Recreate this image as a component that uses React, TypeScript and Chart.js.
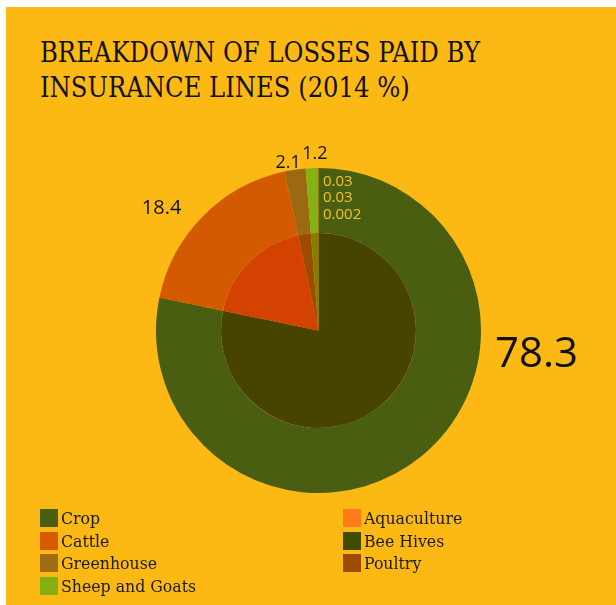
import React, { useEffect, useRef } from "react";
import { Chart, registerables } from "chart.js";

Chart.register(...registerables);

// ---- data ----
const categories = ["Crop", "Cattle", "Greenhouse", "Sheep and Goats", "Aquaculture", "Bee Hives", "Poultry"];
const values = [78.3, 18.4, 2.1, 1.2, 0.03, 0.03, 0.002];
const valueLabels = ["78.3", "18.4", "2.1", "1.2", "0.03", "0.03", "0.002"];
const legendColumnA = ["Crop", "Cattle", "Greenhouse", "Sheep and Goats"];
const legendColumnB = ["Aquaculture", "Bee Hives", "Poultry"];
const titleLines = ["BREAKDOWN OF LOSSES PAID BY", "INSURANCE LINES (2014 %)"];

// ---- styles ----
const BG = "#FDB913";
const outerColors = ["#495E11", "#D45A00", "#9B6911", "#82B214", "#FF7A1A", "#404C00", "#9E4A04"];
const innerColors = ["#464400", "#D34200", "#9B4C00", "#7F7F00", "#FF5500", "#3F3700", "#9E3600"];
const legendColors = ["#4A5E12", "#D55A00", "#A06C10", "#84B111", "#FF7A1A", "#404C00", "#9E4A04"];
const SERIF = "'DejaVu Serif Condensed', 'DejaVu Serif', serif";
const SANS = "'Open Sans', sans-serif";

// label placement: angle (deg, canvas), radius factor, font size, colour, align
const labelPlacement = [
  { a: 6.4, r: 1.35, size: 42, color: "#111", align: "center" },
  { a: -142, r: 1.225, size: 20, color: "#111", align: "center" },
  { a: -100.3, r: 1.047, size: 18, color: "#111", align: "center" },
  { a: -91.2, r: 1.089, size: 18, color: "#111", align: "center" },
  { a: -88.3, r: 0.916, size: 15, color: "#F6C323", align: "left" },
  { a: -88.06, r: 0.818, size: 15, color: "#F6C323", align: "left" },
  { a: -87.8, r: 0.716, size: 15, color: "#F6C323", align: "left" },
];

const valueLabelPlugin = {
  id: "valueLabels",
  afterDatasetsDraw(chart: any) {
    const meta = chart.getDatasetMeta(0);
    const ctx = chart.ctx;
    ctx.save();
    meta.data.forEach((arc: any, i: number) => {
      const p = labelPlacement[i];
      const { x, y, outerRadius } = arc.getProps(["x", "y", "outerRadius"], true);
      const ang = (p.a * Math.PI) / 180;
      const px = x + Math.cos(ang) * outerRadius * p.r;
      const py = y + Math.sin(ang) * outerRadius * p.r;
      ctx.font = `${p.size}px ${SANS}`;
      ctx.fillStyle = p.color;
      ctx.textAlign = p.align;
      ctx.textBaseline = "middle";
      ctx.fillText(valueLabels[i], px, py);
    });
    ctx.restore();
  },
};

function PieChart() {
  const ref = useRef<HTMLCanvasElement>(null);
  useEffect(() => {
    if (!ref.current) return;
    const chart = new Chart(ref.current, {
      type: "pie",
      data: {
        labels: categories,
        datasets: [
          { data: values, backgroundColor: outerColors, borderWidth: 0, weight: 65 },
          { data: values, backgroundColor: innerColors, borderWidth: 0, weight: 97.5 },
        ],
      },
      options: {
        animation: false,
        responsive: false,
        maintainAspectRatio: false,
        layout: { padding: { left: 150, right: 135, top: 161, bottom: 112 } },
        plugins: { legend: { display: false }, tooltip: { enabled: false } },
        events: [],
      },
      plugins: [valueLabelPlugin],
    });
    return () => chart.destroy();
  }, []);
  return <canvas ref={ref} width={610} height={598} style={{ position: "absolute", left: 0, top: 0 }} />;
}

function LegendColumn({ items, left }: { items: string[]; left: number }) {
  return (
    <div style={{ position: "absolute", left, top: 498 }}>
      {items.map((name) => {
        const idx = categories.indexOf(name);
        return (
          <div key={name} style={{ display: "flex", alignItems: "flex-end", height: 22.4 }}>
            <span style={{ width: 18, height: 18, background: legendColors[idx], display: "inline-block", marginRight: 3 }} />
            <span style={{ fontFamily: SERIF, fontSize: 17.5, lineHeight: "18px", color: "#1a1a1a" }}>{name}</span>
          </div>
        );
      })}
    </div>
  );
}

export default function App() {
  return (
    <div style={{ position: "absolute", left: 6, top: 7, width: 610, height: 598, background: BG, overflow: "hidden" }}>
      <div style={{ position: "absolute", left: 34, top: 28, fontFamily: SERIF, fontSize: 27, lineHeight: "35px", color: "#111", whiteSpace: "nowrap" }}>
        {titleLines.map((t) => (
          <div key={t}>{t}</div>
        ))}
      </div>
      <PieChart />
      <LegendColumn items={legendColumnA} left={34} />
      <LegendColumn items={legendColumnB} left={337} />
    </div>
  );
}
